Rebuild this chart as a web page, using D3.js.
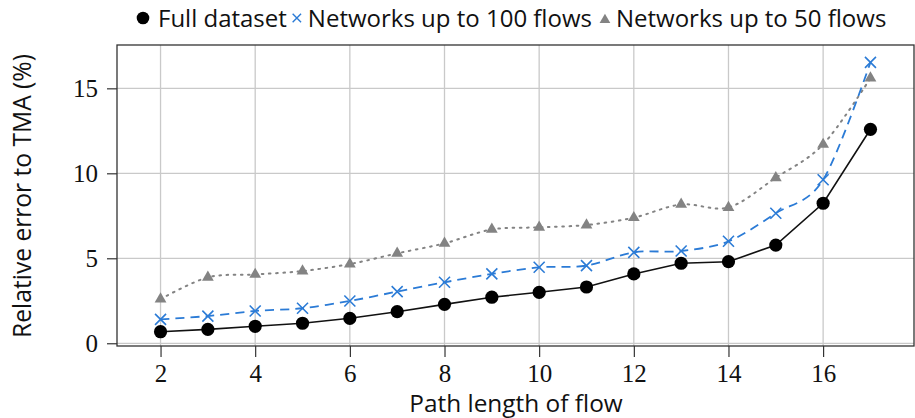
<!DOCTYPE html>
<html>
<head>
<meta charset="utf-8">
<script src="https://cdn.jsdelivr.net/npm/d3@7"></script>
<style>
  body { margin: 0; background: #fff; }
</style>
</head>
<body>
<svg id="chart" width="915" height="418"></svg>
<script>
// Relative error to TMA (%) per path length of flow
const pathLength = [2, 3, 4, 5, 6, 7, 8, 9, 10, 11, 12, 13, 14, 15, 16, 17];
const fullDataset = [0.68, 0.82, 1.0, 1.18, 1.47, 1.86, 2.29, 2.71, 3.0, 3.31, 4.08, 4.71, 4.8, 5.78, 8.24, 12.59];
const upTo100Flows = [1.41, 1.6, 1.9, 2.06, 2.49, 3.04, 3.59, 4.08, 4.47, 4.57, 5.35, 5.43, 6.0, 7.65, 9.62, 16.53];
const upTo50Flows = [2.6, 3.88, 4.05, 4.25, 4.66, 5.29, 5.88, 6.7, 6.82, 6.96, 7.39, 8.17, 7.99, 9.74, 11.7, 15.6];
const seriesNames = ["Full dataset", "Networks up to 100 flows", "Networks up to 50 flows"];
const xTickValues = [2, 4, 6, 8, 10, 12, 14, 16];
const yTickValues = [0, 5, 10, 15];
const xLabel = "Path length of flow";
const yLabel = "Relative error to TMA (%)";

const SANS = "'Open Sans', 'Noto Sans', sans-serif";
const SERIF = "'Liberation Serif', 'DejaVu Serif', serif";

const svg = d3.select("#chart");
const plot = { left: 117, right: 914, top: 45, bottom: 346 };

const x = d3.scaleLinear().domain([1.08, 17.92]).range([plot.left, plot.right]);
const y = d3.scaleLinear().domain([-0.16, 17.55]).range([plot.bottom, plot.top]);

const gridColor = "#c9c9c9";
const blue = "#2b7bd6";
const gray = "#838383";

// grid
const grid = svg.append("g");
grid.selectAll("line.vx").data(xTickValues).join("line")
  .attr("x1", d => x(d)).attr("x2", d => x(d))
  .attr("y1", plot.top).attr("y2", plot.bottom)
  .attr("stroke", gridColor).attr("stroke-width", 1.3);
grid.selectAll("line.hy").data(yTickValues).join("line")
  .attr("x1", plot.left).attr("x2", plot.right)
  .attr("y1", d => y(d)).attr("y2", d => y(d))
  .attr("stroke", gridColor).attr("stroke-width", 1.3);

// axes with outward ticks
const xAxis = d3.axisBottom(x).tickValues(xTickValues).tickSize(11).tickPadding(7).tickFormat(d3.format("d"));
const yAxis = d3.axisLeft(y).tickValues(yTickValues).tickSize(10).tickPadding(9).tickFormat(d3.format("d"));

const gx = svg.append("g").attr("transform", `translate(0,${plot.bottom})`).call(xAxis);
const gy = svg.append("g").attr("transform", `translate(${plot.left},0)`).call(yAxis);
[gx, gy].forEach(g => {
  g.attr("font-family", SERIF).attr("font-size", 25);
  g.select(".domain").remove();
  g.selectAll(".tick line").attr("stroke", "#222").attr("stroke-width", 1.1);
  g.selectAll(".tick text").style("font-family", SERIF).attr("font-size", 25).attr("fill", "#111");
});

// frame
svg.append("rect")
  .attr("x", plot.left).attr("y", plot.top)
  .attr("width", plot.right - plot.left).attr("height", plot.bottom - plot.top)
  .attr("fill", "none").attr("stroke", "#333").attr("stroke-width", 1.3);

// series lines
const pts = vals => vals.map((v, i) => [pathLength[i], v]);
const straight = d3.line().x(d => x(d[0])).y(d => y(d[1]));
const smooth = d3.line().x(d => x(d[0])).y(d => y(d[1])).curve(d3.curveCardinal.tension(0.05));

svg.append("path").datum(pts(upTo50Flows)).attr("d", smooth)
  .attr("fill", "none").attr("stroke", gray).attr("stroke-width", 2)
  .attr("stroke-dasharray", "1.6 5.5").attr("stroke-linecap", "round");
svg.append("path").datum(pts(upTo100Flows)).attr("d", smooth)
  .attr("fill", "none").attr("stroke", blue).attr("stroke-width", 1.8)
  .attr("stroke-dasharray", "9 6");
svg.append("path").datum(pts(fullDataset)).attr("d", straight)
  .attr("fill", "none").attr("stroke", "#111").attr("stroke-width", 1.6);

// markers
function triangle(r) {
  const h = r * Math.sqrt(3) / 2;
  return `M0,${-r}L${h},${r / 2}L${-h},${r / 2}Z`;
}
function cross(s) {
  return `M${-s},${-s}L${s},${s}M${-s},${s}L${s},${-s}`;
}
svg.append("g").selectAll("path").data(pts(upTo50Flows)).join("path")
  .attr("transform", d => `translate(${x(d[0])},${y(d[1])})`)
  .attr("d", triangle(6.8)).attr("fill", gray);
svg.append("g").selectAll("path").data(pts(upTo100Flows)).join("path")
  .attr("transform", d => `translate(${x(d[0])},${y(d[1])})`)
  .attr("d", cross(5.5)).attr("fill", "none").attr("stroke", blue).attr("stroke-width", 1.6);
svg.append("g").selectAll("circle").data(pts(fullDataset)).join("circle")
  .attr("cx", d => x(d[0])).attr("cy", d => y(d[1])).attr("r", 6.6).attr("fill", "#000");

// axis titles
svg.append("text").attr("font-family", SANS).attr("font-size", 24.4).attr("fill", "#111")
  .attr("x", 516).attr("y", 412)
  .attr("text-anchor", "middle").text(xLabel);
svg.append("text").attr("font-family", SANS).attr("font-size", 24.6).attr("fill", "#111")
  .attr("transform", `translate(31,196) rotate(-90)`)
  .attr("text-anchor", "middle").text(yLabel);

// legend
const legend = svg.append("g");
const legendY = 18;
const symbolGap = [0, 10, 13];
let lx = 143;
const legendSymbols = [
  g => g.append("circle").attr("r", 6.3).attr("fill", "#000"),
  g => g.append("path").attr("d", cross(4.2)).attr("stroke", blue).attr("stroke-width", 1.4).attr("fill", "none"),
  g => g.append("path").attr("d", triangle(6.2)).attr("fill", gray).attr("transform", "translate(0,2)")
];
seriesNames.forEach((name, i) => {
  lx += symbolGap[i];
  const sym = legend.append("g").attr("transform", `translate(${lx},${legendY})`);
  legendSymbols[i](sym);
  const t = legend.append("text").attr("font-family", SANS).attr("font-size", 24).attr("fill", "#111")
    .attr("x", lx + (i === 0 ? 15 : 11)).attr("y", legendY + 8.5).text(name);
  lx += (i === 0 ? 15 : 11) + t.node().getComputedTextLength();
});
</script>
</body>
</html>
